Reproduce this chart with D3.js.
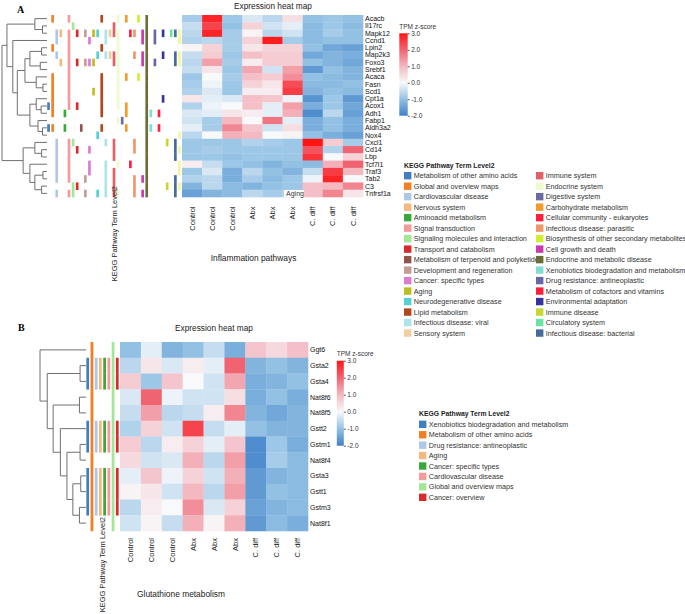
<!DOCTYPE html>
<html>
<head>
<meta charset="utf-8">
<script src="https://cdn.jsdelivr.net/npm/d3@7"></script>
<style>
    body { margin: 0; background: #fff; }
    svg { display: block; font-family: "Liberation Sans", Arial, sans-serif; }
</style>
</head>
<body>
<svg id="chart" width="685" height="614"></svg>
<script>
// ---------------- data ----------------
const samples = ["Control", "Control", "Control", "Abx", "Abx", "Abx", "C. diff", "C. diff", "C. diff"];

// Panel A - inflammation pathways
const genesA = ["Acacb", "Il17rc", "Mapk12", "Ccnd1", "Lpin2", "Map2k3", "Foxo3", "Srebf1", "Acaca", "Fasn",
    "Scd1", "Cpt1a", "Acox1", "Adh1", "Fabp1", "Aldh3a2", "Nox4", "Cxcl1", "Cd14", "Lbp",
    "Tcf7l1", "Traf3", "Tab2", "C3", "Tnfrsf1a"];

const valuesA = [
    [-0.8, 2.8, -0.9, -0.3, -0.6, 0.4, -1.0, -0.9, -1.0],
    [-0.5, 2.4, -1.0, 0.6, -0.4, -0.2, -1.1, -0.9, -1.1],
    [-0.6, 2.8, -0.8, 0.1, -0.6, -0.4, -1.1, -0.8, -1.0],
    [-0.7, -0.6, -0.8, 0.6, 2.9, -0.8, -1.1, -1.0, -1.0],
    [0.1, 0.6, -0.8, 0.3, 0.6, 0.6, -1.0, -1.4, -1.5],
    [-0.5, 0.7, -0.9, 0.9, 0.7, 0.7, -1.4, -1.2, -1.3],
    [-0.6, 1.3, -0.8, 0.2, 0.7, 0.7, -1.0, -1.2, -1.4],
    [-0.5, 0.3, -0.9, 1.2, -0.4, 1.3, -1.6, -1.0, -1.2],
    [-0.9, 0.0, -0.8, 0.9, 0.7, 1.5, -1.0, -1.1, -1.2],
    [-0.8, -0.1, -0.9, 0.6, 0.3, 2.3, -1.1, -1.1, -1.0],
    [-0.7, -0.3, -0.9, 0.2, 0.2, 2.5, -1.2, -1.0, -1.1],
    [0.3, -0.2, -0.3, 0.9, 0.8, -0.1, -1.7, -0.9, -1.6],
    [-0.7, -0.1, 0.0, 0.9, -0.2, 1.3, -1.3, -0.9, -1.4],
    [-0.3, -0.2, 0.3, 0.2, -0.2, 1.1, -1.8, -0.6, -1.5],
    [-0.4, -0.8, 1.0, 0.0, 1.8, -0.2, -1.3, -1.0, -1.3],
    [-0.2, -0.8, 1.6, 0.8, -0.4, 0.4, -1.3, -1.0, -1.3],
    [-0.6, 0.0, 1.1, 1.0, 0.0, 0.1, -1.0, -1.3, -1.5],
    [-0.9, -0.9, -0.9, -0.7, -0.8, -0.9, 3.0, 0.7, -0.8],
    [-0.9, -0.8, -0.9, -0.9, -0.9, -0.9, 2.2, -0.7, 2.0],
    [-0.9, -0.9, -1.0, -0.9, -0.9, -0.9, 2.6, 0.0, 0.6],
    [0.2, -0.5, -0.9, -1.0, -1.2, -1.0, -1.1, 1.1, 2.0],
    [-0.9, -0.3, -1.3, -0.6, -1.0, -1.2, -0.5, 2.5, 1.0],
    [-0.7, -0.6, -1.3, -0.8, -1.1, -0.9, -0.1, 2.8, 0.0],
    [-1.2, -0.6, -1.1, -1.2, -1.0, -0.9, 0.9, 1.0, 1.6],
    [-1.5, -1.2, -1.1, -0.6, -0.8, -0.7, 0.9, 1.6, 0.3]
];

// row clustering: [left, right, height], new node ids start at genesA.length
const linkageA = [
    [1, 2, 1.0], [0, 25, 2.7], [4, 5, 1.2], [6, 7, 1.5], [27, 28, 3.8],
    [9, 10, 0.9], [8, 30, 2.4], [29, 31, 4.9], [12, 13, 1.3], [11, 33, 2.4],
    [15, 16, 1.0], [14, 35, 2.0], [34, 36, 3.8], [32, 37, 6.6], [3, 38, 7.6],
    [26, 39, 8.9], [18, 19, 1.2], [17, 41, 2.7], [21, 22, 0.9], [23, 24, 1.2],
    [43, 44, 2.7], [20, 45, 3.8], [42, 46, 5.3], [40, 47, 10]
];

const keggA = ["Metabolism of other amino acids", "Global and overview maps", "Cardiovascular disease",
    "Nervous system", "Aminoacid metabolism", "Signal transduction", "Signaling molecules and interaction",
    "Transport and catabolism", "Metabolism of terpenoid and polyketides", "Development and regeneration",
    "Cancer: specific types", "Aging", "Neurodegenerative disease", "Lipid metabolism",
    "Infectious disease: viral", "Sensory system", "Immune system", "Endocrine system", "Digestive system",
    "Carbohydrate metabolism", "Cellular community - eukaryotes", "Infectious disease: parasitic",
    "Biosynthesis of other secondary metabolites", "Cell growth and death", "Endocrine and metabolic disease",
    "Xenobiotics biodegradation and metabolism", "Drug resistance: antineoplastic",
    "Metabolism of cofactors and vitamins", "Environmental adaptation", "Immune disease",
    "Circulatory system", "Infectious disease: bacterial", ""];

const keggColorsA = ["#3f7fbf", "#f47f20", "#aec7e8", "#f5b97f", "#3aa83a", "#f49a9c", "#a3e697",
    "#d92b2b", "#8c564b", "#c49c94", "#e07ad0", "#bcbd22", "#55d0d4", "#b4461c", "#abe4ea",
    "#f4cd9e", "#e35f66", "#eefbcd", "#6a6aa3", "#f29a2a", "#ff1f3d", "#ef966b", "#d0ef2e",
    "#cc3ab0", "#6b6d34", "#80ded1", "#6767a3", "#ff1f3a", "#34349a", "#c8d631", "#6ae3a5",
    "#456b9b", "#f3f79b"];

// gene rows annotated with each pathway term
const keggRowsA = [
    [12, 15],
    [0, 4, 8, 9, 10, 11, 12, 13, 15],
    [2, 3, 5, 17, 18, 19, 20, 21, 22, 24],
    [2, 6],
    [13, 15],
    [0, 2, 3, 4, 5, 6, 7, 8, 9, 10, 11, 12, 17, 18, 19, 20, 21, 22, 24],
    [1, 17, 23, 24],
    [2, 6, 12, 18, 23],
    [15],
    [2, 6, 22, 24],
    [3, 6, 18, 20, 21],
    [2, 6, 10],
    [2, 5, 16, 24],
    [0, 4, 8, 9, 10, 11, 12, 13, 15],
    [2, 3, 5, 17, 20, 21, 22, 23, 24],
    [2, 5],
    [1, 2, 5, 6, 17, 18, 19, 21, 22, 23, 24],
    [0, 2, 3, 4, 5, 6, 7, 8, 9, 10, 11, 12, 14, 20, 24],
    [14],
    [0, 8, 12, 13, 15],
    [2, 20],
    [2, 5, 17, 18, 22, 23, 24],
    [0, 8],
    [2, 3, 5, 6, 22, 24],
    d3.range(25),
    [13, 15],
    [2, 3, 6],
    [13, 15],
    [2, 5, 11],
    [17, 23],
    [2],
    [2, 5, 6, 17, 18, 19, 22, 23, 24],
    [2, 3, 5, 6, 16, 18, 20, 21, 23]
];

// labels pasted over the heat map in the original figure
const overlayA = [{ text: "Aging", row: 24, col: 5 }];

// Panel B - glutathione metabolism
const genesB = ["Ggt6", "Gsta2", "Gsta4", "Nat8f6", "Nat8f5", "Gstt2", "Gstm1", "Nat8f4", "Gsta3", "Gstt1", "Gstm3", "Nat8f1"];

const valuesB = [
    [-1.0, -0.2, -1.2, -1.0, -0.5, -1.3, 0.8, 0.5, 0.9],
    [-0.6, 0.3, -0.3, 0.2, -0.2, 2.0, -1.2, -1.0, -1.2],
    [0.7, -0.9, 0.8, 0.0, -0.4, 1.2, -1.3, -1.2, -1.0],
    [-0.3, 2.0, -0.1, -0.4, -0.4, 0.4, -1.3, -1.0, -1.3],
    [-0.5, 1.3, -0.6, -0.5, 0.2, 1.6, -1.2, -1.4, -1.2],
    [-0.7, 0.6, -0.4, 2.4, -0.5, -0.2, -1.0, -1.2, -1.2],
    [0.7, -0.6, 0.2, 0.6, -0.2, 0.8, -1.8, -0.9, -1.3],
    [0.5, -0.4, -0.3, 1.1, -0.6, 1.3, -1.8, -0.8, -1.1],
    [-0.2, 0.8, -0.1, 0.6, -0.4, 1.1, -1.6, -1.2, -1.1],
    [0.1, 0.3, -0.4, 1.0, -0.6, 1.3, -1.6, -1.0, -1.1],
    [-0.6, 0.2, 0.0, 1.5, -0.3, 0.6, -1.5, -1.2, -1.1],
    [-0.4, 0.1, -0.5, 1.1, 0.1, 1.1, -1.6, -1.1, -1.3]
];

const linkageB = [
    [3, 4, 1.0], [6, 7, 0.9], [8, 9, 0.8], [10, 11, 1.0], [1, 2, 0.9],
    [14, 15, 2.0], [13, 17, 2.9], [5, 18, 3.9], [12, 19, 5.0], [16, 20, 5.9], [0, 21, 7.0]
];

const keggB = ["Xenobiotics biodegradation and metabolism", "Metabolism of other amino acids",
    "Drug resistance: antineoplastic", "Aging", "Cancer: specific types", "Cardiovascular disease",
    "Global and overview maps", "Cancer: overview"];
const keggColorsB = ["#3f7fbf", "#f47f20", "#aec7e8", "#f5b97f", "#3aa83a", "#f49a9c", "#a3e697", "#d92b2b"];
const gstRows = [1, 2, 5, 6, 8, 9, 10];
const keggRowsB = [gstRows, d3.range(12), gstRows, gstRows, gstRows, gstRows, d3.range(12), gstRows];

// TPM z-score colour map
const zStops = [-2, -1, 0, 1, 2, 3];
const zColors = ["#3f80c8", "#93c1e4", "#f8f9fb", "#f3b8c0", "#f06472", "#ff1414"];
const zTicks = [-2, -1, 0, 1, 2, 3];

// ---------------- drawing ----------------
const svg = d3.select("#chart");
const color = d3.scaleLinear().domain(zStops).range(zColors).clamp(true);

const grad = svg.append("defs").append("linearGradient")
    .attr("id", "zgrad").attr("x1", 0).attr("y1", 1).attr("x2", 0).attr("y2", 0);
grad.selectAll("stop").data(zStops).enter().append("stop")
    .attr("offset", d => (d - zStops[0]) / (zStops[zStops.length - 1] - zStops[0]))
    .attr("stop-color", d => color(d));

function buildTree(linkage, n) {
    const nodes = d3.range(n).map(i => ({ leaf: i, h: 0 }));
    linkage.forEach(([a, b, h]) => nodes.push({ h: h, children: [nodes[a], nodes[b]] }));
    return d3.hierarchy(nodes[nodes.length - 1]);
}

function drawPanel(p) {
    const g = svg.append("g");
    const x = d3.scaleBand().domain(d3.range(samples.length)).range(p.heatX);
    const y = d3.scaleBand().domain(d3.range(p.genes.length)).range(p.heatY);

    // heat map cells
    p.values.forEach((row, i) => {
        g.selectAll(null).data(row).enter().append("rect")
            .attr("x", (d, j) => x(j))
            .attr("y", y(i))
            .attr("width", x.bandwidth() + 0.3)
            .attr("height", y.bandwidth() + 0.3)
            .attr("fill", d => color(d));
    });

    // gene labels
    g.selectAll(".gene").data(p.genes).enter().append("text")
        .attr("x", p.heatX[1] + 2)
        .attr("y", (d, i) => y(i) + y.bandwidth() / 2)
        .attr("dy", "0.35em")
        .attr("font-size", "7px")
        .attr("fill", "#111")
        .text(d => d);

    // sample labels
    g.selectAll(".sample").data(samples).enter().append("text")
        .attr("transform", (d, j) => `translate(${x(j) + x.bandwidth() / 2},${p.sampleY}) rotate(-90)`)
        .attr("dy", "0.35em")
        .attr("text-anchor", "end")
        .attr("font-size", "7.5px")
        .attr("fill", "#222")
        .text(d => d);

    // pathway annotation columns
    const a = d3.scaleBand().domain(d3.range(p.kegg.length)).range(p.annoX)
        .paddingInner(0.35).paddingOuter(0.175);
    p.keggRows.forEach((rows, k) => {
        g.selectAll(null).data(rows).enter().append("rect")
            .attr("x", a(k))
            .attr("y", r => y(r))
            .attr("width", a.bandwidth())
            .attr("height", y.bandwidth() + 0.3)
            .attr("fill", p.keggColors[k]);
    });

    g.append("text")
        .attr("transform", `translate(${(p.annoX[0] + p.annoX[1]) / 2},${p.keggLabelY}) rotate(-90)`)
        .attr("dy", "0.35em")
        .attr("text-anchor", "end")
        .attr("font-size", "7.5px")
        .attr("fill", "#222")
        .text("KEGG Pathway Term Level2");

    // row dendrogram
    const root = buildTree(p.linkage, p.genes.length);
    const hx = d3.scaleLinear().domain([0, root.data.h]).range(p.dendroX);
    root.eachAfter(d => {
        d.yy = d.children ? (d.children[0].yy + d.children[1].yy) / 2 : y(d.data.leaf) + y.bandwidth() / 2;
    });
    g.selectAll(".link").data(root.descendants().filter(d => d.children)).enter().append("path")
        .attr("fill", "none")
        .attr("stroke", "#707070")
        .attr("stroke-width", 1)
        .attr("d", d => {
            const [c0, c1] = d.children;
            return `M${hx(c0.data.h)},${c0.yy}H${hx(d.data.h)}V${c1.yy}H${hx(c1.data.h)}`;
        });

    // titles
    g.append("text")
        .attr("x", p.titleX).attr("y", p.titleY)
        .attr("text-anchor", "middle")
        .attr("font-size", "8.3px")
        .attr("fill", "#222")
        .text("Expression heat map");
    g.append("text")
        .attr("x", p.nameX).attr("y", p.nameY)
        .attr("text-anchor", "middle")
        .attr("font-size", "8.4px")
        .attr("fill", "#222")
        .text(p.name);
    g.append("text")
        .attr("x", p.letterX).attr("y", p.letterY)
        .attr("font-family", "'Liberation Serif', 'Times New Roman', serif")
        .attr("font-weight", "bold")
        .attr("font-size", "10px")
        .text(p.letter);

    // colour bar
    const cy = d3.scaleLinear().domain([zStops[0], zStops[zStops.length - 1]]).range(p.barY);
    g.append("rect")
        .attr("x", p.barX).attr("y", p.barY[1])
        .attr("width", p.barW).attr("height", p.barY[0] - p.barY[1])
        .attr("fill", "url(#zgrad)");
    const axis = g.append("g")
        .attr("transform", `translate(${p.barX + p.barW},0)`)
        .call(d3.axisRight(cy).tickValues(zTicks).tickSize(2).tickPadding(1.5).tickFormat(d => d.toFixed(1)));
    axis.select(".domain").remove();
    axis.selectAll("line").attr("stroke", "#555");
    axis.selectAll("text").attr("font-size", "6.5px").attr("fill", "#333")
        .attr("font-family", "'Liberation Sans', Arial, sans-serif");
    g.append("text")
        .attr("x", p.barX).attr("y", p.barY[1] - 4.5)
        .attr("font-size", "6.5px").attr("fill", "#333")
        .text("TPM z-score");

    // legend
    const lg = g.append("g");
    lg.append("text")
        .attr("x", p.legendX[0]).attr("y", p.legendY - 8)
        .attr("font-size", "6.8px").attr("font-weight", "bold").attr("fill", "#222")
        .text("KEGG Pathway Term Level2");
    const items = p.kegg.map((name, k) => ({ name: name, color: p.keggColors[k] })).filter(d => d.name);
    const perCol = p.legendPerCol;
    const item = lg.selectAll(".item").data(items).enter().append("g")
        .attr("transform", (d, i) => `translate(${p.legendX[Math.floor(i / perCol)]},${p.legendY + (i % perCol) * p.legendStep})`);
    item.append("rect")
        .attr("x", 0).attr("y", -3.7)
        .attr("width", 7.4).attr("height", 7.4)
        .attr("fill", d => d.color);
    item.append("text")
        .attr("x", 9.8).attr("dy", "0.35em")
        .attr("font-size", "7.2px").attr("fill", "#333")
        .text(d => d.name);

    // overlay labels
    (p.overlay || []).forEach(o => {
        g.append("rect")
            .attr("x", x(o.col) + 1.5).attr("y", y(o.row) + 0.3)
            .attr("width", x.bandwidth()).attr("height", y.bandwidth())
            .attr("fill", "#fff");
        g.append("text")
            .attr("x", x(o.col) + 3.5).attr("y", y(o.row) + y.bandwidth() / 2)
            .attr("dy", "0.35em")
            .attr("font-size", "7px").attr("fill", "#333")
            .text(o.text);
    });
}

drawPanel({
    letter: "A", letterX: 17, letterY: 13,
    genes: genesA, values: valuesA, linkage: linkageA,
    kegg: keggA, keggColors: keggColorsA, keggRows: keggRowsA, overlay: overlayA,
    heatX: [182, 363], heatY: [15, 197], annoX: [46.5, 181.5], dendroX: [47, 2],
    sampleY: 206.5, keggLabelY: 186,
    titleX: 273, titleY: 8.5, name: "Inflammation pathways", nameX: 253.5, nameY: 261,
    barX: 399.3, barW: 8.4, barY: [115.7, 33.3],
    legendX: [404, 536], legendY: 175.7, legendStep: 10.49, legendPerCol: 16
});

drawPanel({
    letter: "B", letterX: 18, letterY: 331,
    genes: genesB, values: valuesB, linkage: linkageB,
    kegg: keggB, keggColors: keggColorsB, keggRows: keggRowsB,
    heatX: [120, 308], heatY: [342, 531], annoX: [85.6, 119.4], dendroX: [86, 40],
    sampleY: 538, keggLabelY: 517,
    titleX: 214, titleY: 331, name: "Glutathione metabolism", nameX: 181, nameY: 597,
    barX: 336.8, barW: 7, barY: [445.7, 360.7],
    legendX: [419], legendY: 424.3, legendStep: 10.43, legendPerCol: 8
});
</script>
</body>
</html>
